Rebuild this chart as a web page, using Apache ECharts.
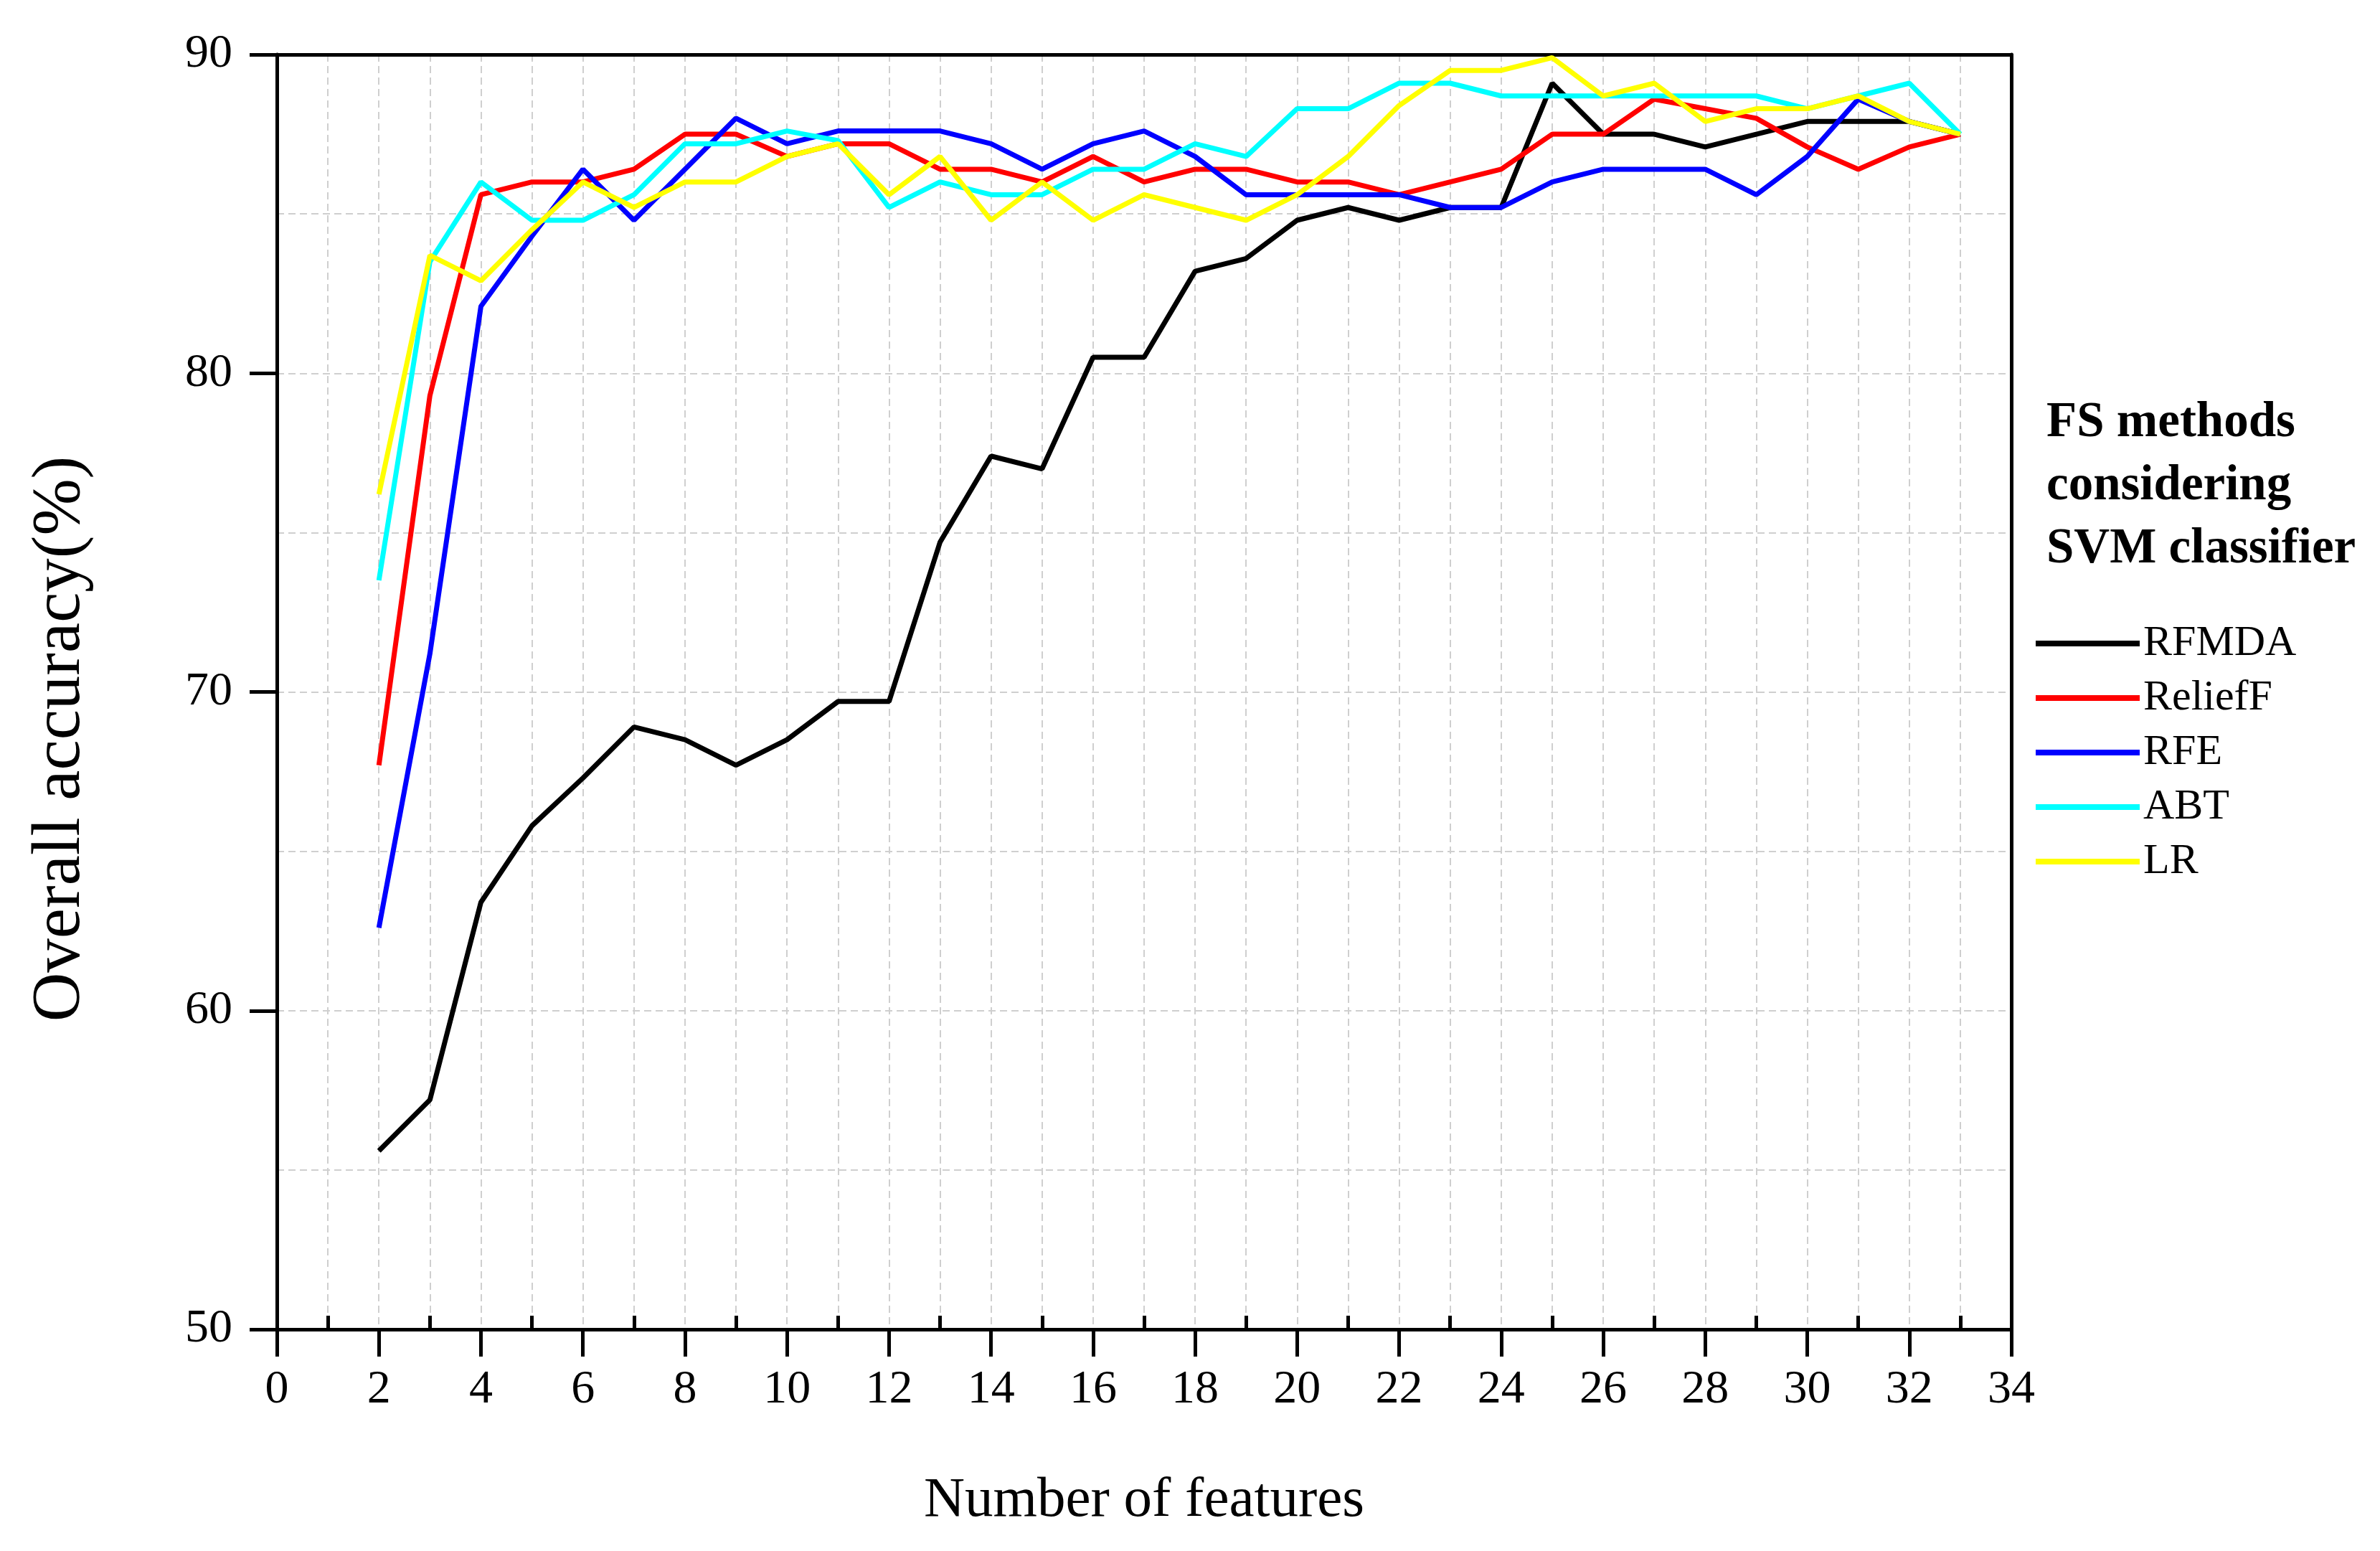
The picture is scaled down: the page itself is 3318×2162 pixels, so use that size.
<!DOCTYPE html>
<html>
<head>
<meta charset="utf-8">
<script src="https://cdn.jsdelivr.net/npm/echarts@6/dist/echarts.min.js"></script>
<style>
html,body{margin:0;padding:0;background:#fff;}
#chart{width:3318px;height:2162px;}
</style>
</head>
<body>
<div id="chart"></div>
<script>
const features = [2,3,4,5,6,7,8,9,10,11,12,13,14,15,16,17,18,19,20,21,22,23,24,25,26,27,28,29,30,31,32,33];
const seriesNames = ['RFMDA','ReliefF','RFE','ABT','LR'];
const seriesColors = ['#000000','#ff0000','#0000ff','#00ffff','#ffff00'];
const rfmda   = [55.6,57.2,63.4,65.8,67.3,68.9,68.5,67.7,68.5,69.7,69.7,74.7,77.4,77.0,80.5,80.5,83.2,83.6,84.8,85.2,84.8,85.2,85.2,89.1,87.5,87.5,87.1,87.5,87.9,87.9,87.9,87.5];
const relieff = [67.7,79.3,85.6,86.0,86.0,86.4,87.5,87.5,86.8,87.2,87.2,86.4,86.4,86.0,86.8,86.0,86.4,86.4,86.0,86.0,85.6,86.0,86.4,87.5,87.5,88.6,88.3,88.0,87.1,86.4,87.1,87.5];
const rfe     = [62.6,71.2,82.1,84.3,86.4,84.8,86.4,88.0,87.2,87.6,87.6,87.6,87.2,86.4,87.2,87.6,86.8,85.6,85.6,85.6,85.6,85.2,85.2,86.0,86.4,86.4,86.4,85.6,86.8,88.6,87.9,87.5];
const abt     = [73.5,83.5,86.0,84.8,84.8,85.6,87.2,87.2,87.6,87.3,85.2,86.0,85.6,85.6,86.4,86.4,87.2,86.8,88.3,88.3,89.1,89.1,88.7,88.7,88.7,88.7,88.7,88.7,88.3,88.7,89.1,87.5];
const lr      = [76.2,83.7,82.9,84.5,86.0,85.2,86.0,86.0,86.8,87.2,85.6,86.8,84.8,86.0,84.8,85.6,85.2,84.8,85.6,86.8,88.4,89.5,89.5,89.9,88.7,89.1,87.9,88.3,88.3,88.7,87.9,87.5];
const allValues = [rfmda, relieff, rfe, abt, lr];

const FONT = "'Liberation Serif','Times New Roman',serif";
const gridLine = {show:true, lineStyle:{color:'#cfcfcf', width:2, type:[10,6]}};
const borderOnly = {
  axisLine:{show:true, onZero:false, lineStyle:{color:'#000', width:5}},
  axisTick:{show:false}, axisLabel:{show:false},
  splitLine:{show:false}, minorTick:{show:false}, minorSplitLine:{show:false}
};

const chart = echarts.init(document.getElementById('chart'), null, {renderer:'canvas'});
chart.setOption({
  animation:false,
  backgroundColor:'#ffffff',
  title:{
    text:'FS methods\nconsidering\nSVM classifier',
    left:2853, top:546, padding:0,
    textStyle:{fontFamily:FONT, fontSize:69, fontWeight:'bold', lineHeight:88, color:'#000'}
  },
  legend:{
    orient:'vertical', left:2838, top:867, padding:0,
    icon:'rect', itemWidth:145, itemHeight:8, itemGap:16,
    textStyle:{fontFamily:FONT, fontSize:60, lineHeight:60, color:'#000'},
    data:seriesNames
  },
  graphic:[{
    type:'text', x:85, y:1030, rotation:Math.PI/2,
    style:{text:'Overall accuracy(%)', fontFamily:FONT, fontSize:95, fill:'#000', textAlign:'center', textVerticalAlign:'middle'}
  }],
  grid:{left:386, right:514, top:76, bottom:309, show:true, borderWidth:0, backgroundColor:'#fff'},
  xAxis:[
    {
      type:'value', min:0, max:34, interval:2, position:'bottom',
      name:'Number of features', nameLocation:'middle', nameGap:200,
      nameTextStyle:{fontFamily:FONT, fontSize:79, color:'#000'},
      axisLine:{show:true, onZero:false, lineStyle:{color:'#000', width:5}},
      axisTick:{show:true, length:38, lineStyle:{color:'#000', width:5}},
      axisLabel:{fontFamily:FONT, fontSize:66, color:'#000', margin:52},
      splitLine:gridLine,
      minorTick:{show:false, splitNumber:2},
      minorSplitLine:gridLine
    },
    {
      type:'value', min:0, max:34, interval:2, position:'bottom',
      axisLine:{show:false},
      axisTick:{show:false, inside:true},
      axisLabel:{show:false},
      splitLine:{show:false},
      minorTick:{show:true, splitNumber:2, length:19, lineStyle:{color:'#000', width:5}},
      minorSplitLine:{show:false}
    },
    Object.assign({type:'value', min:0, max:34, interval:2, position:'top'}, borderOnly)
  ],
  yAxis:[
    {
      type:'value', min:50, max:90, interval:10, position:'left',
      axisLine:{show:true, onZero:false, lineStyle:{color:'#000', width:5}},
      axisTick:{show:true, length:38, lineStyle:{color:'#000', width:5}},
      axisLabel:{fontFamily:FONT, fontSize:66, color:'#000', margin:62},
      splitLine:gridLine,
      minorTick:{show:false, splitNumber:2},
      minorSplitLine:gridLine
    },
    Object.assign({type:'value', min:50, max:90, interval:10, position:'right'}, borderOnly)
  ],
  series: seriesNames.map((name, k) => ({
    name:name, type:'line', xAxisIndex:0, yAxisIndex:0,
    symbol:'none', showSymbol:false,
    color:seriesColors[k],
    lineStyle:{color:seriesColors[k], width:7},
    data: features.map((x, i) => [x, allValues[k][i]])
  }))
});
</script>
</body>
</html>
